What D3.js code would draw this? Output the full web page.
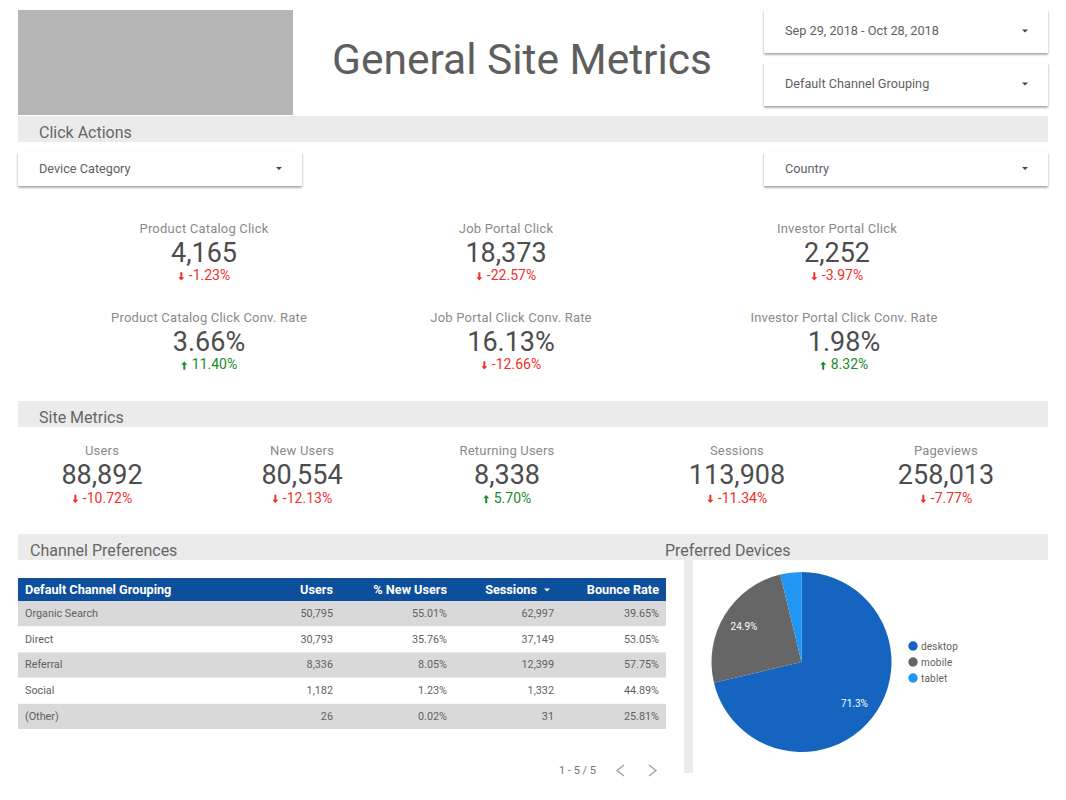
<!DOCTYPE html>
<html>
<head>
<meta charset="utf-8">
<script src="https://cdn.jsdelivr.net/npm/d3@7/dist/d3.min.js"></script>
<style>
    html, body { margin: 0; padding: 0; background: #fff; }
    svg { display: block; font-family: Roboto, sans-serif; }
</style>
</head>
<body>
<div id="chart"></div>
<script>
const WIDTH = 1066;
const HEIGHT = 800;

const clickNames = ["Product Catalog Click", "Job Portal Click", "Investor Portal Click"];
const clickValues = ["4,165", "18,373", "2,252"];
const clickDeltas = [-1.23, -22.57, -3.97];

const rateNames = ["Product Catalog Click Conv. Rate", "Job Portal Click Conv. Rate", "Investor Portal Click Conv. Rate"];
const rateValues = ["3.66%", "16.13%", "1.98%"];
const rateDeltas = [11.40, -12.66, 8.32];

const siteNames = ["Users", "New Users", "Returning Users", "Sessions", "Pageviews"];
const siteValues = ["88,892", "80,554", "8,338", "113,908", "258,013"];
const siteDeltas = [-10.72, -12.13, 5.70, -11.34, -7.77];

const tableColumns = ["Default Channel Grouping", "Users", "% New Users", "Sessions", "Bounce Rate"];
const channels = ["Organic Search", "Direct", "Referral", "Social", "(Other)"];
const channelUsers = ["50,795", "30,793", "8,336", "1,182", "26"];
const channelNewUsers = ["55.01%", "35.76%", "8.05%", "1.23%", "0.02%"];
const channelSessions = ["62,997", "37,149", "12,399", "1,332", "31"];
const channelBounce = ["39.65%", "53.05%", "57.75%", "44.89%", "25.81%"];

const devices = ["desktop", "mobile", "tablet"];
const deviceShares = [71.3, 24.9, 3.8];
const deviceColors = ["#1565c0", "#666666", "#2196f3"];

const svg = d3.select("#chart").append("svg")
    .attr("width", WIDTH)
    .attr("height", HEIGHT);

const defs = svg.append("defs");
const shadow = defs.append("filter").attr("id", "card-shadow")
    .attr("x", "-5%").attr("y", "-20%").attr("width", "110%").attr("height", "150%");
shadow.append("feDropShadow")
    .attr("dx", 0).attr("dy", 1.5).attr("stdDeviation", 1.2)
    .attr("flood-color", "#000").attr("flood-opacity", 0.4);

function drawBand(y, label, labelX) {
    svg.append("rect").attr("x", 18).attr("y", y).attr("width", 1030).attr("height", 26).attr("fill", "#ebebeb");
    svg.append("text").attr("x", labelX).attr("y", y + 21.5)
        .attr("font-size", 16).attr("fill", "#666").text(label);
}

function drawDropdown(x, y, w, h, label) {
    svg.append("rect").attr("x", x).attr("y", y).attr("width", w).attr("height", h)
        .attr("fill", "#fff").attr("filter", "url(#card-shadow)");
    svg.append("text").attr("x", x + 21).attr("y", y + h / 2 + 3.5)
        .attr("font-size", 12.7).attr("fill", "#5f5f5f").text(label);
    let ax = x + w - 23, ay = y + h / 2 - 2;
    svg.append("path").attr("d", `M${ax - 3},${ay}h6l-3,3z`).attr("fill", "#444");
}

function drawCard(cx, y, name, value, delta) {
    svg.append("text").attr("x", cx).attr("y", y).attr("text-anchor", "middle")
        .attr("font-size", 13).attr("letter-spacing", 0.2).attr("fill", "#8a8a8a").text(name);
    svg.append("text").attr("x", cx).attr("y", y + 29).attr("text-anchor", "middle")
        .attr("font-size", 27).attr("fill", "#4d4d4d").text(value);

    let up = delta > 0;
    let color = up ? "#1b8a2a" : "#f22f2a";
    let label = svg.append("text").attr("x", cx + 5.5).attr("y", y + 47.5).attr("text-anchor", "middle")
        .attr("font-size", 14).attr("fill", color)
        .text(d3.format(".2f")(delta).replace("\u2212", "-") + "%");
    let box = label.node().getBBox();
    let ax = box.x - 7.5, ay = y + 44;
    let arrow = up
        ? `M${ax},${ay - 4}l3,3.2h-2v5h-2v-5h-2z`
        : `M${ax},${ay + 4}l3,-3.2h-2v-5h-2v5h-2z`;
    svg.append("path").attr("d", arrow).attr("fill", color);
}

// header
svg.append("rect").attr("x", 18).attr("y", 10).attr("width", 275).attr("height", 105).attr("fill", "#b5b5b5");
svg.append("text").attr("x", 522).attr("y", 74).attr("text-anchor", "middle")
    .attr("font-size", 42.5).attr("fill", "#5e5e5e").text("General Site Metrics");

drawBand(116, "Click Actions", 39);
drawBand(401, "Site Metrics", 39);
drawBand(534, "Channel Preferences", 30);
svg.append("text").attr("x", 665).attr("y", 555.5)
    .attr("font-size", 16).attr("fill", "#666").text("Preferred Devices");

drawDropdown(764, 10, 284, 43, "Sep 29, 2018 - Oct 28, 2018");
drawDropdown(764, 63, 284, 43, "Default Channel Grouping");
drawDropdown(18, 152, 284, 34, "Device Category");
drawDropdown(764, 152, 284, 34, "Country");

// scorecards
const clickCenters = [204, 506, 837];
const rateCenters = [209, 511, 844];
const siteCenters = [102, 302, 507, 737, 946];
clickNames.forEach((n, i) => drawCard(clickCenters[i], 232.5, n, clickValues[i], clickDeltas[i]));
rateNames.forEach((n, i) => drawCard(rateCenters[i], 321.5, n, rateValues[i], rateDeltas[i]));
siteNames.forEach((n, i) => drawCard(siteCenters[i], 455, n, siteValues[i], siteDeltas[i]));

// table
const tableLeft = 18, tableRight = 666;
const columnEdges = [25, 333, 447, 554, 659];
const rowY = d3.scaleBand().domain(channels).range([601, 729.5]);
const tableRows = channels.map((c, i) => [c, channelUsers[i], channelNewUsers[i], channelSessions[i], channelBounce[i]]);

svg.append("rect").attr("x", tableLeft).attr("y", 578).attr("width", tableRight - tableLeft).attr("height", 23)
    .attr("fill", "#0e4f9b");
tableColumns.forEach((c, i) => {
    let right = i == 3 ? columnEdges[i] - 17 : columnEdges[i];
    svg.append("text").attr("x", right).attr("y", 594)
        .attr("text-anchor", i == 0 ? "start" : "end")
        .attr("font-size", 12.7).attr("font-weight", 700).attr("fill", "#fff").text(c);
});
svg.append("path").attr("d", "M544,588.5h6l-3,3z").attr("fill", "#fff");

tableRows.forEach((row, r) => {
    let y = rowY(channels[r]);
    if (r % 2 == 0) {
        svg.append("rect").attr("x", tableLeft).attr("y", y).attr("width", tableRight - tableLeft)
            .attr("height", rowY.bandwidth() - 0.5).attr("fill", "#d9d9d9");
    }
    row.forEach((cell, i) => {
        svg.append("text").attr("x", columnEdges[i]).attr("y", y + 16)
            .attr("text-anchor", i == 0 ? "start" : "end")
            .attr("font-size", 10.8).attr("fill", "#616161").text(cell);
    });
});

// pagination
svg.append("text").attr("x", 596).attr("y", 774).attr("text-anchor", "end")
    .attr("font-size", 11).attr("fill", "#757575").text("1 - 5 / 5");
svg.append("path").attr("d", "M624,765l-7,5.5l7,5.5").attr("fill", "none").attr("stroke", "#9e9e9e").attr("stroke-width", 1.3);
svg.append("path").attr("d", "M649,765l7,5.5l-7,5.5").attr("fill", "none").attr("stroke", "#9e9e9e").attr("stroke-width", 1.3);

// side divider
svg.append("rect").attr("x", 684).attr("y", 560).attr("width", 9).attr("height", 213).attr("fill", "#ebebeb");

// pie
const pieCx = 801.5, pieCy = 662, pieR = 90;
const pieData = d3.pie().sort(null)(deviceShares);
const arc = d3.arc().innerRadius(0).outerRadius(pieR);
const labelArc = d3.arc().innerRadius(pieR * 0.75).outerRadius(pieR * 0.75);
const pieG = svg.append("g").attr("transform", `translate(${pieCx},${pieCy})`);
pieG.selectAll("path").data(pieData).join("path")
    .attr("d", arc)
    .attr("fill", (d, i) => deviceColors[i]);
pieG.selectAll("text").data(pieData.filter(d => d.data > 5)).join("text")
    .attr("transform", d => `translate(${labelArc.centroid(d)})`)
    .attr("dy", "0.35em")
    .attr("text-anchor", "middle")
    .attr("font-size", 10)
    .attr("fill", "#fff")
    .text(d => d.data.toFixed(1) + "%");

// legend
const legendY = d3.scalePoint().domain(devices).range([646, 678]);
devices.forEach((d, i) => {
    svg.append("circle").attr("cx", 913).attr("cy", legendY(d)).attr("r", 4.7).attr("fill", deviceColors[i]);
    svg.append("text").attr("x", 921).attr("y", legendY(d) + 3.5)
        .attr("font-size", 10).attr("letter-spacing", 0.2).attr("fill", "#616161").text(d);
});
</script>
</body>
</html>
